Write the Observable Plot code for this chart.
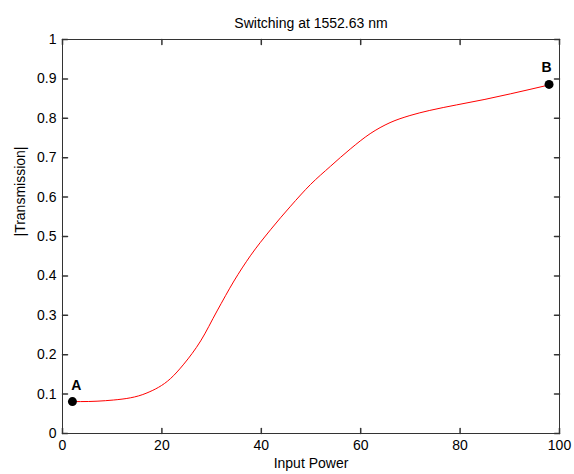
<!DOCTYPE html>
<html>
<head>
<meta charset="utf-8">
<script src="https://cdn.jsdelivr.net/npm/d3@7"></script>
<script src="https://cdn.jsdelivr.net/npm/@observablehq/plot@0.6"></script>
<style>
  body { margin: 0; background: #fff; }
  svg { font-family: "Liberation Sans", Arial, sans-serif; }
</style>
</head>
<body>
<div id="chart"></div>
<script>
const titleText = "Switching at 1552.63 nm";
const xLabel = "Input Power";
const yLabel = "|Transmission|";

const power = [2, 3.6, 10.3, 17, 21.7, 24.4, 27.8, 31.1, 34.5, 37.8, 41.85, 45.9, 49.9, 53.9, 57.9, 61.9, 65.9, 69.9, 73.9, 79.3, 85, 90.1, 98];
const transmission = [0.081, 0.081, 0.085, 0.103, 0.139, 0.176, 0.235, 0.311, 0.387, 0.451, 0.517, 0.577, 0.632, 0.678, 0.722, 0.761, 0.789, 0.807, 0.82, 0.834, 0.848, 0.862, 0.885];

const markerNames = ["A", "B"];
const markerX = [2, 97.9];
const markerY = [0.081, 0.886];
const markerLabelX = [2.8, 97.4];
const markerLabelY = [0.122, 0.928];

const xTicks = [0, 20, 40, 60, 80, 100];
const yTicks = [0, 0.1, 0.2, 0.3, 0.4, 0.5, 0.6, 0.7, 0.8, 0.9, 1];

const curve = power.map((x, i) => ({x, y: transmission[i]}));
const markers = markerNames.map((name, i) => ({name, x: markerX[i], y: markerY[i], lx: markerLabelX[i], ly: markerLabelY[i]}));

const tickShape = {draw(ctx, l) { ctx.moveTo(0, 0); ctx.lineTo(0, -l); }};
const tickLen = 5;
const fmt = d => String(+d.toFixed(2));

const chart = Plot.plot({
  width: 574,
  height: 474,
  marginLeft: 62,
  marginRight: 15,
  marginTop: 39,
  marginBottom: 41,
  style: {fontFamily: '"Liberation Sans", Arial, sans-serif', fontSize: "13px", background: "#fff"},
  x: {domain: [0, 100], ticks: xTicks},
  y: {domain: [0, 1], ticks: yTicks},
  marks: [
    Plot.axisX(xTicks, {tickSize: 0, tickPadding: 7, tickFormat: fmt, label: null, fontSize: 14, fill: "#000"}),
    Plot.axisY(yTicks, {tickSize: 0, tickPadding: 6, tickFormat: fmt, label: null, fontSize: 14, fill: "#000"}),
    Plot.vector(xTicks, {x: d => d, y: 0, length: tickLen, rotate: 0, anchor: "start", shape: tickShape, stroke: "#333"}),
    Plot.vector(xTicks, {x: d => d, y: 1, length: tickLen, rotate: 180, anchor: "start", shape: tickShape, stroke: "#333"}),
    Plot.vector(yTicks, {x: 0, y: d => d, length: tickLen, rotate: 90, anchor: "start", shape: tickShape, stroke: "#333"}),
    Plot.vector(yTicks, {x: 100, y: d => d, length: tickLen, rotate: -90, anchor: "start", shape: tickShape, stroke: "#333"}),
    Plot.frame({stroke: "#333"}),
    Plot.line(curve, {x: "x", y: "y", stroke: "red", strokeWidth: 1, curve: "monotone-x"}),
    Plot.dot(markers, {x: "x", y: "y", r: 4.5, fill: "#000"}),
    Plot.text(markers, {x: "lx", y: "ly", text: "name", fontWeight: "bold", fontSize: 14, fill: "#000"}),
    Plot.text([titleText], {frameAnchor: "top", dy: -21, fontSize: 14, fill: "#000"}),
    Plot.text([xLabel], {frameAnchor: "bottom", dy: 34, fontSize: 14, fill: "#000"}),
    Plot.text([yLabel], {frameAnchor: "left", dx: -42, rotate: -90, fontSize: 14, fill: "#000"})
  ]
});
document.getElementById("chart").appendChild(chart);
</script>
</body>
</html>
